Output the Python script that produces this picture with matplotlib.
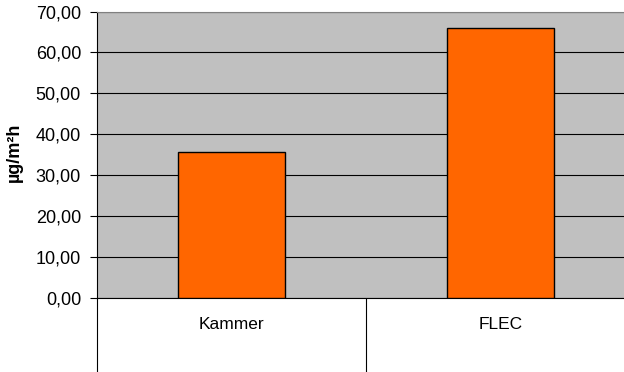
import matplotlib.pyplot as plt
from matplotlib.ticker import FuncFormatter, FixedLocator

categories = ["Kammer", "FLEC"]
values = [35.7, 65.9]
y_ticks = [0, 10, 20, 30, 40, 50, 60, 70]

plt.rcParams['font.family'] = ['Liberation Sans', 'DejaVu Sans']

fig = plt.figure(figsize=(6.24, 3.72), dpi=100)
# plot area is cut off on the right in the original
ax = fig.add_axes([97 / 624, (372 - 298) / 372, 538 / 624, (298 - 11.5) / 372])
ax.set_facecolor('#C0C0C0')

x = list(range(len(categories)))
ax.bar(x, values, width=0.4, color='#FF6600', edgecolor='black', linewidth=1, zorder=3)

ax.set_xlim(-0.5, len(categories) - 0.5)
ax.set_ylim(0, 70)
ax.set_yticks(y_ticks)
ax.yaxis.set_major_formatter(FuncFormatter(lambda v, p: f"{v:.2f}".replace('.', ',')))
ax.yaxis.grid(True, color='black', linewidth=0.8, zorder=1)
ax.set_axisbelow(True)

ax.set_xticks(x)
ax.set_xticklabels(categories)
ax.xaxis.set_minor_locator(FixedLocator([-0.5, 0.5, 1.5]))
ax.tick_params(axis='x', which='major', length=0, pad=13.5, labelsize=12.5)
ax.tick_params(axis='x', which='minor', length=60, width=0.8, color='black')
ax.tick_params(axis='y', length=5, width=0.8, labelsize=13, pad=6.5)

ax.spines['top'].set_color('#808080')
ax.spines['right'].set_visible(False)
ax.spines['left'].set_color('black')
ax.spines['bottom'].set_color('black')
ax.spines['left'].set_linewidth(0.8)
ax.spines['bottom'].set_linewidth(0.8)

fig.text(14.5 / 624, (372 - 152) / 372, 'µg/m²h', fontweight='bold', fontsize=13,
         rotation=90, ha='center', va='center')

fig.savefig('out.png', dpi=100)
